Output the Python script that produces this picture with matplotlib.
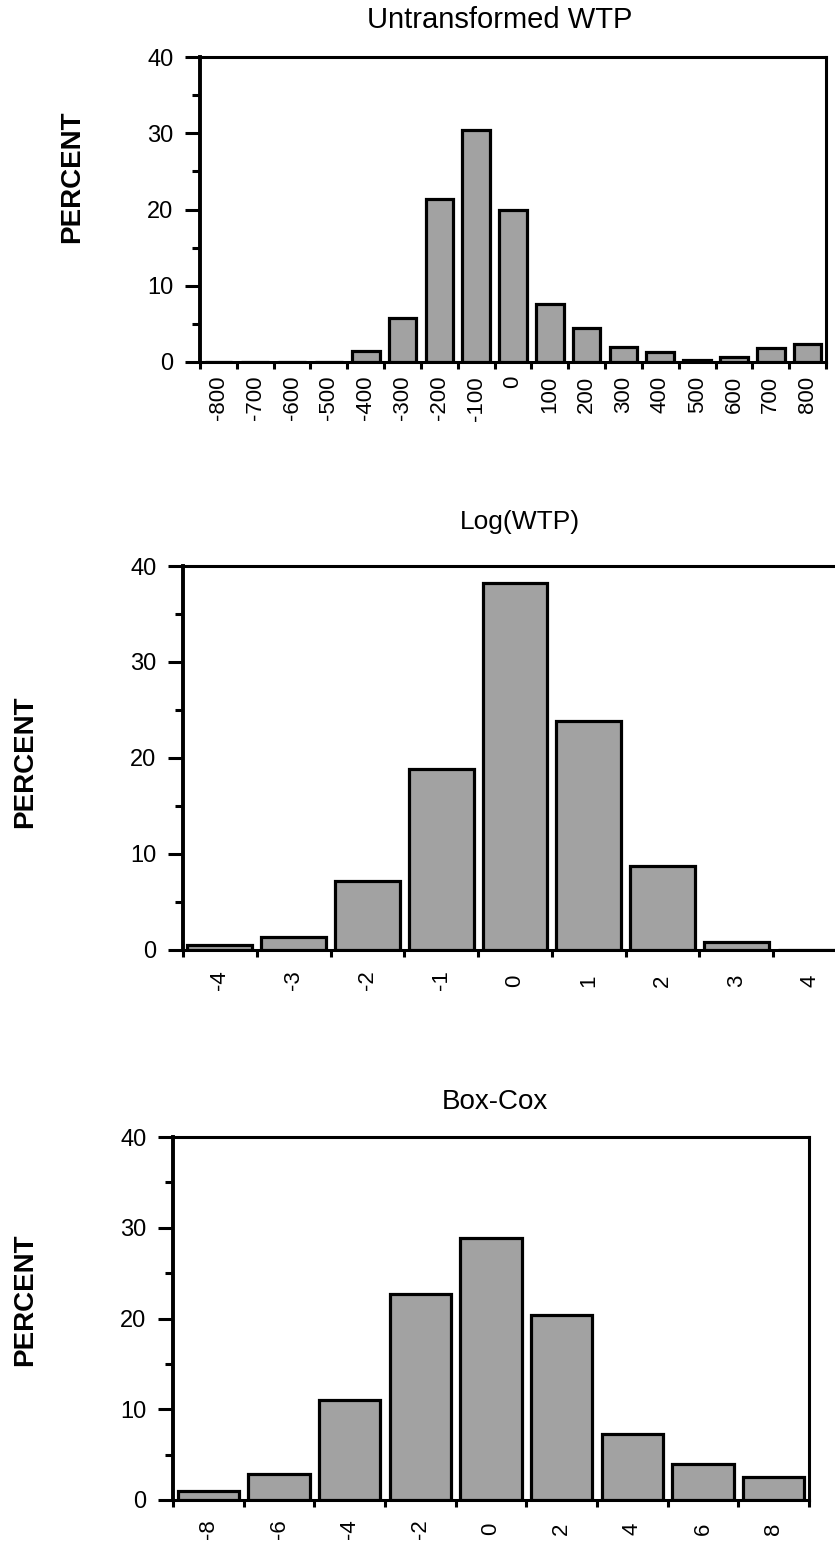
import matplotlib
matplotlib.use("Agg")
import matplotlib.pyplot as plt
import numpy as np

plt.rcParams['font.family'] = ['Liberation Sans', 'DejaVu Sans']

# ---------------- data ----------------
wtp_bins = [-800, -700, -600, -500, -400, -300, -200, -100, 0,
            100, 200, 300, 400, 500, 600, 700, 800]
wtp_pct = [0, 0, 0, 0, 1.5, 5.8, 21.4, 30.4, 19.9,
           7.6, 4.5, 2.0, 1.3, 0.3, 0.6, 1.8, 2.4]

log_bins = [-4, -3, -2, -1, 0, 1, 2, 3, 4]
log_pct = [0.5, 1.35, 7.2, 18.9, 38.2, 23.9, 8.8, 0.8, 0]

bc_bins = [-8, -6, -4, -2, 0, 2, 4, 6, 8]
bc_pct = [1.0, 2.9, 11.0, 22.7, 28.9, 20.4, 7.3, 4.0, 2.5]

titles = ["Untransformed WTP", "Log(WTP)", "Box-Cox"]
ylabel = "PERCENT"
yticks = [0, 10, 20, 30, 40]

W, H = 835, 1550
fig = plt.figure(figsize=(W / 100, H / 100), dpi=100)

BAR_COLOR = '#a2a2a2'


def px_axes(left, right, top, bottom):
    return fig.add_axes([left / W, 1 - bottom / H, (right - left) / W, (bottom - top) / H])


def draw(ax, bins, pct, step, width_frac, label_pad, va):
    bins = np.asarray(bins, dtype=float)
    ax.bar(bins, pct, width=step * width_frac, color=BAR_COLOR,
           edgecolor='black', linewidth=2.3, zorder=3)
    lo = bins[0] - step / 2
    hi = bins[-1] + step / 2
    ax.set_xlim(lo, hi)
    ax.set_ylim(0, 40)
    edges = np.arange(len(bins) + 1) * step + lo
    ax.set_xticks(edges)
    ax.set_xticklabels([])
    ax.set_xticks(bins, [f"{int(b)}" for b in bins], minor=True)
    ax.tick_params(axis='x', which='major', direction='out', length=5, width=2.2)
    ax.tick_params(axis='x', which='minor', length=0, pad=label_pad,
                   labelrotation=90, labelsize=16)
    for lbl in ax.get_xticklabels(minor=True):
        lbl.set_va(va)
    ax.set_yticks(yticks)
    ax.set_yticks([5, 15, 25, 35], minor=True)
    ax.tick_params(axis='y', which='major', direction='out', length=11, width=2.2,
                   pad=8, labelsize=17)
    ax.tick_params(axis='y', which='minor', direction='out', length=6, width=2.2)
    for s in ax.spines.values():
        s.set_linewidth(2.2)
    ax.spines['left'].set_linewidth(2.8)


def ylab(x, y):
    fig.text(x / W, 1 - y / H, ylabel, rotation=90, ha='center', va='center',
             fontsize=20, fontweight='bold')


# top chart
ax1 = px_axes(200, 826, 57, 362)
draw(ax1, wtp_bins, wtp_pct, 100, 0.75, 10, 'top')
fig.text(500 / W, 1 - 20 / H, titles[0], ha='center', va='center', fontsize=21)
ylab(72, 177)

# middle chart
ax2 = px_axes(183, 847, 566, 950)
draw(ax2, log_bins, log_pct, 1, 0.88, 22, 'center')
fig.text(520 / W, 1 - 522 / H, titles[1], ha='center', va='center', fontsize=19)
ylab(25, 762)

# bottom chart
ax3 = px_axes(173, 809, 1137, 1500)
draw(ax3, bc_bins, bc_pct, 2, 0.87, 21, 'center')
fig.text(495 / W, 1 - 1102 / H, titles[2], ha='center', va='center', fontsize=20)
ylab(25, 1300)

fig.savefig("out.png", dpi=100)
